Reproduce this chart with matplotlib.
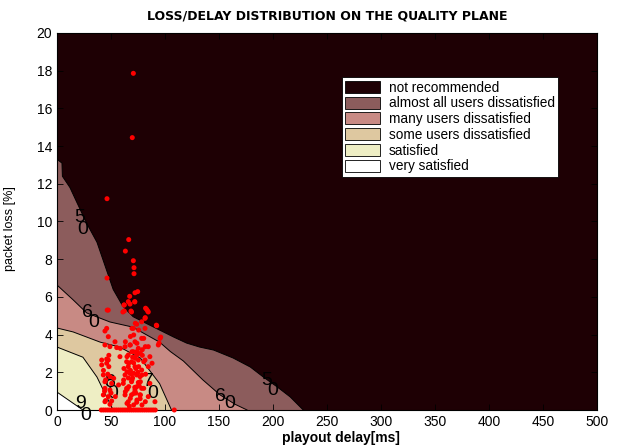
import numpy as np
import matplotlib
matplotlib.use("Agg")
import matplotlib.pyplot as plt
from matplotlib.patches import Patch

plt.rcParams['font.family'] = ['Liberation Sans', 'DejaVu Sans']

# === Datos ===
# fronteras de calidad (delay ms, loss %)
b50_delay = [0, 4.6, 5, 12, 18.5, 27.5, 37, 46, 52, 61, 70.5, 80, 95, 108, 120, 132, 145, 163, 179, 191, 204, 216, 228]
b50_loss = [13.3, 13.1, 12.4, 11.8, 11.0, 9.9, 8.9, 7.4, 6.4, 5.5, 4.95, 4.67, 4.24, 3.87, 3.55, 3.34, 3.18, 2.76, 2.28, 1.75, 1.22, 0.69, 0.0]
b60_delay = [0, 15, 27.5, 49, 70, 95, 105, 117, 135, 151, 165, 176]
b60_loss = [6.63, 5.84, 5.15, 4.67, 4.4, 3.6, 3.1, 2.6, 1.6, 0.8, 0.3, 0.0]
b70_delay = [0, 15, 40, 58, 77, 95, 106]
b70_loss = [4.35, 4.14, 3.6, 3.34, 2.76, 1.4, 0.0]
b80_delay = [0, 24, 37, 46, 52]
b80_loss = [3.34, 2.8, 1.75, 0.69, 0.0]
b90_delay = [0, 24]
b90_loss = [0.95, 0.0]

regiones = ['not recommended', 'almost all users dissatisfied', 'many users dissatisfied',
            'some users dissatisfied', 'satisfied', 'very satisfied']
colores = ['#1e0004', '#8c5c5c', '#c88a84', '#dec8a0', '#eeeec4', '#ffffff']

# etiquetas de contorno (digitos separados, como en el original)
etiq_txt = ['5', '0', '6', '0', '8', '0', '7', '0', '9', '0', '6', '0', '5', '0']
etiq_x = [21.3, 24.1, 27.8, 34.3, 49, 52, 84.3, 88.9, 22.2, 26.9, 151, 160, 194, 200]
etiq_y = [10.2, 9.55, 5.15, 4.62, 1.45, 0.85, 1.49, 0.9, 0.37, -0.27, 0.69, 0.37, 1.59, 1.06]

# mediciones (delay ms, loss %)
med_delay = [70.7, 69.7, 46.3, 66.4, 63.3, 70.7, 71.3, 71.3, 46.3, 72.2, 74.7, 67.3,
             62, 67.6, 72, 61, 69, 46.5, 82, 84, 81.7, 92, 96, 94.5,
             66, 72, 62.3, 68.5, 62.3, 83, 84.5, 47.5, 81.5, 78.4, 92.3, 73.8, 70.7, 46, 81.5, 44.4,
             95.4, 47.5, 53.7, 78.4, 93.8, 44.4, 49, 55.3, 63, 67.6, 72.2, 75.3, 84.5,
             41.4, 58.3, 66, 70.7, 73.8, 86, 47.5, 46, 64.5, 69, 75.3, 81.5, 41.4, 66, 72.2, 84.5, 78.4,
             42.9, 49, 63, 67.6, 73.8, 76.9, 44.4, 50.6, 61.4, 69, 75.3, 86, 44.4, 49, 64.5, 72.2, 78.4,
             42.9, 47.5, 63, 69, 76.9, 84.5, 44.4, 50.6, 66, 73.8, 90.7,
             72.5, 69.4, 75.6, 71, 80.3, 63.3, 67.9, 74, 81.8, 58.6, 69.4, 77.2, 64.8, 72.5, 88, 80.3,
             66.4, 75.6, 64.8, 71, 78.7, 61.7, 69.4, 77.2, 66.4, 74, 80.3, 63.3, 71, 77.2, 67.9, 74,
             81.8, 64.8, 71, 78.7, 54, 57, 52.5,
             68, 73, 70, 76, 79, 65, 62, 74, 71, 67, 77, 69, 72, 75, 66, 79, 73, 70, 68, 82,
             43, 45, 48, 50, 46, 44, 47, 49, 45, 48,
             41, 43, 45, 47, 49, 51, 53, 55, 57, 59, 61, 63, 65, 67, 69, 71, 73, 75, 77, 79,
             81, 83, 85, 87, 89, 91, 108.6]
med_loss = [17.86, 14.45, 11.21, 9.04, 8.43, 7.92, 7.55, 7.23, 7.0, 6.22, 6.28, 6.03,
            5.57, 5.62, 5.73, 5.2, 5.2, 5.3, 5.4, 5.25, 4.9, 4.5, 3.87, 3.55,
            5.75, 5.75, 5.57, 5.25, 5.25, 5.34, 5.2, 5.3, 4.86, 4.68, 4.47, 4.55, 4.33, 4.33, 4.33, 4.19,
            3.8, 3.89, 3.62, 3.8, 3.45, 3.45, 3.36, 3.31, 3.36, 3.45, 3.62, 3.27, 3.36,
            2.65, 2.83, 2.92, 3.09, 2.92, 2.83, 2.65, 2.48, 2.56, 2.56, 2.65, 2.65, 2.39, 2.3, 2.3, 2.3, 2.12,
            1.86, 1.77, 1.86, 1.95, 1.86, 1.77, 1.5, 1.41, 1.41, 1.5, 1.46, 1.41, 1.15, 1.06, 1.15, 1.06, 1.15,
            0.8, 0.71, 0.8, 0.8, 0.8, 0.71, 0.44, 0.48, 0.44, 0.41, 0.44,
            4.6, 4.33, 4.24, 3.98, 3.8, 3.62, 3.45, 3.54, 3.36, 3.27, 3.09, 3.0, 2.83, 2.74, 2.48, 2.56,
            2.48, 2.3, 2.03, 1.95, 1.86, 1.59, 1.59, 1.5, 1.24, 1.24, 1.15, 0.97, 0.88, 0.8, 0.62, 0.53,
            0.44, 0.35, 0.27, 0.27, 0.71, 1.33, 1.68,
            2.1, 2.2, 1.7, 1.3, 2.9, 1.1, 2.2, 3.1, 2.5, 0.2, 0.6, 1.9, 1.2, 2.0, 1.7, 3.2, 0.9, 2.8, 3.9, 1.9,
            2.1, 1.6, 2.3, 0.9, 2.7, 1.0, 1.9, 0.3, 0.5, 2.9,
            0, 0, 0, 0, 0, 0, 0, 0, 0, 0, 0, 0, 0, 0, 0, 0, 0, 0, 0, 0,
            0, 0, 0, 0, 0, 0, 0]

# === Grafica ===
fig = plt.figure(figsize=(6.21, 4.48), dpi=100)
ax = fig.add_axes([57 / 621, 38 / 448, 540 / 621, 377 / 448])
ax.set_facecolor(colores[0])

fronteras = [(b50_delay, b50_loss), (b60_delay, b60_loss), (b70_delay, b70_loss),
             (b80_delay, b80_loss), (b90_delay, b90_loss)]
for i, (bd, bl) in enumerate(fronteras):
    ax.fill(list(bd) + [0], list(bl) + [0], color=colores[i + 1], lw=0)
    ax.plot(bd, bl, color='black', lw=0.7)

for t, x, y in zip(etiq_txt, etiq_x, etiq_y):
    ax.text(x, y, t, fontsize=14, ha='center', va='center', color='black', clip_on=False, zorder=3)

ax.scatter(med_delay, med_loss, s=13, color='red', edgecolors='none', zorder=4, clip_on=False)

ax.set_xlim(0, 500)
ax.set_ylim(0, 20)
ax.set_xticks(range(0, 501, 50))
ax.set_yticks(range(0, 21, 2))
ax.tick_params(direction='in', top=True, right=True, labelsize=10, length=4, width=0.6)
for s in ax.spines.values():
    s.set_linewidth(0.8)

ax.set_title('LOSS/DELAY DISTRIBUTION ON THE QUALITY PLANE', fontsize=9, fontweight='bold',
             family='DejaVu Sans', pad=10)
ax.set_xlabel('playout delay[ms]', fontsize=10, fontweight='bold')
ax.xaxis.set_label_coords(0.526, -0.055)
ax.set_ylabel('packet loss [%]', fontsize=9)
ax.yaxis.set_label_coords(-0.075, 0.48)

handles = [Patch(facecolor=c, edgecolor='black', lw=0.6) for c in colores]
leg = ax.legend(handles, regiones, loc='upper left', bbox_to_anchor=(0.527, 0.883),
                fontsize=9.8, frameon=True, fancybox=False, framealpha=1, facecolor='white',
                handlelength=2.6, handleheight=1.0, borderpad=0.25, labelspacing=0.13,
                handletextpad=0.6, borderaxespad=0)
leg.get_frame().set_edgecolor('black')
leg.get_frame().set_linewidth(0.6)

fig.savefig('out.png', dpi=100)
